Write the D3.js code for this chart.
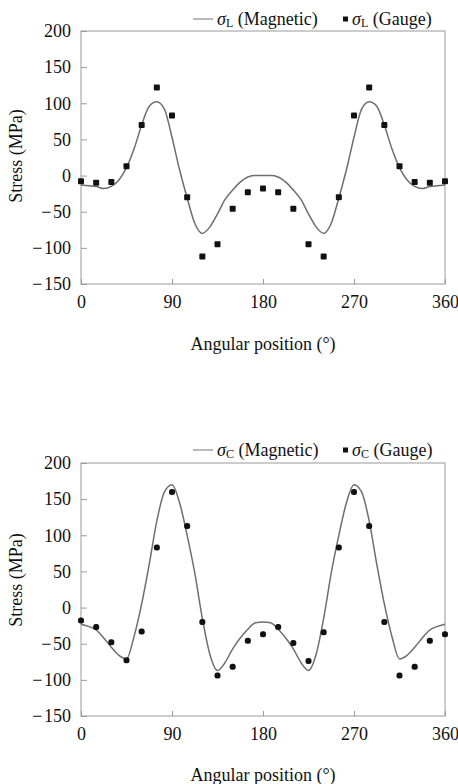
<!DOCTYPE html>
<html>
<head>
<meta charset="utf-8">
<script src="https://cdn.jsdelivr.net/npm/d3@7"></script>
<style>
  body { margin: 0; background: white; }
  svg { display: block; }
  text { font-family: "Liberation Serif", "Times New Roman", serif; }
</style>
</head>
<body>
<svg id="chart"></svg>
<script>
// gauge positions (degrees)
var gaugeAngles = [0, 15, 30, 45, 60, 75, 90, 105, 120, 135, 150, 165, 180,
                   195, 210, 225, 240, 255, 270, 285, 300, 315, 330, 345, 360]
// magnetic readings are denser
var magAngles = [0, 7.5, 15, 22.5, 30, 37.5, 45, 52.5, 60, 67.5, 75, 82.5, 90,
                 97.5, 105, 112.5, 120, 127.5, 135, 142.5, 150, 157.5, 165, 172.5, 180,
                 187.5, 195, 202.5, 210, 217.5, 225, 232.5, 240, 247.5, 255, 262.5, 270,
                 277.5, 285, 292.5, 300, 307.5, 315, 322.5, 330, 337.5, 345, 352.5, 360]

// longitudinal stress (MPa)
var sigmaLGauge = [-8, -10, -9, 13, 70, 122, 83, -30, -112, -95, -46, -23, -18,
                   -23, -46, -95, -112, -30, 83, 122, 70, 13, -9, -10, -8]
var sigmaLMagnetic = [-13, -14, -15, -18, -15, -6, 11, 37, 70, 96, 102, 92, 53,
                      8, -31, -66, -80, -71, -53, -33, -20, -9, -2, 0, 0,
                      0, -2, -9, -20, -33, -53, -71, -80, -66, -31, 8, 53,
                      92, 102, 96, 70, 37, 11, -6, -15, -18, -15, -14, -13]

// circumferential stress (MPa)
var sigmaCGauge = [-18, -27, -48, -73, -33, 83, 160, 113, -20, -94, -82, -46, -37,
                   -27, -49, -74, -34, 83, 160, 113, -20, -94, -82, -46, -37]
var sigmaCMagnetic = [-23, -26, -31, -42, -55, -66, -71, -40, 5, 60, 120, 160, 170,
                      145, 100, 48, -15, -65, -87, -76, -57, -42, -30, -21, -20,
                      -21, -30, -42, -57, -76, -87, -65, -15, 48, 100, 145, 170,
                      160, 120, 60, 5, -40, -71, -66, -55, -42, -31, -26, -23]

var xTicks = [0, 90, 180, 270, 360]
var yTicks = [-150, -100, -50, 0, 50, 100, 150, 200]

var width = 458, height = 784
var margin = { left: 81, right: 13 }
var font = "'Liberation Serif', 'Times New Roman', serif"
var fontSize = "18px"

var svg = d3.select("#chart")
    .attr("width", width)
    .attr("height", height)

var panels = [
    { sub: "L", gauge: sigmaLGauge, mag: sigmaLMagnetic, roundness: 1,
      top: 31, bottom: 284, legendY: 19, titleY: 350, labelY: 156 },
    { sub: "C", gauge: sigmaCGauge, mag: sigmaCMagnetic, roundness: 2.5,
      top: 463, bottom: 716, legendY: 450, titleY: 781, labelY: 580 }
]

var x = d3.scaleLinear()
    .domain([0, 360])
    .range([margin.left, width - margin.right])

var fmt = d => d < 0 ? "\u2212\u200A" + Math.abs(d) : String(d)

panels.forEach(p => {
    var y = d3.scaleLinear()
        .domain([-150, 200])
        .range([p.bottom, p.top])

    var g = svg.append("g")

    // frame
    g.append("rect")
        .attr("x", x(0))
        .attr("y", y(200))
        .attr("width", x(360) - x(0))
        .attr("height", y(-150) - y(200))
        .attr("fill", "none")
        .attr("stroke", "#9a9a9a")
        .attr("stroke-width", 1)

    // y axis, ticks pointing inward
    var yAxis = g.append("g")
        .attr("transform", `translate(${x(0)},0)`)
        .call(d3.axisLeft(y).tickValues(yTicks).tickFormat(fmt)
            .tickSizeInner(-6).tickSizeOuter(0).tickPadding(10))
    yAxis.attr("font-family", font).attr("font-size", fontSize)
    yAxis.select(".domain").remove()
    yAxis.selectAll("line").attr("stroke", "#9a9a9a")
    yAxis.selectAll("text").attr("fill", "#111")

    var xAxis = g.append("g")
        .attr("transform", `translate(0,${y(-150)})`)
        .call(d3.axisBottom(x).tickValues(xTicks)
            .tickSizeInner(-5).tickSizeOuter(0).tickPadding(11))
    xAxis.attr("font-family", font).attr("font-size", fontSize)
    xAxis.select(".domain").remove()
    xAxis.selectAll("line").attr("stroke", "#9a9a9a")
    xAxis.selectAll("text").attr("fill", "#111")

    // axis titles
    g.append("text")
        .attr("x", x(180))
        .attr("y", p.titleY)
        .attr("text-anchor", "middle")
        .attr("font-size", fontSize)
        .attr("fill", "#111")
        .text("Angular position (°)")

    g.append("text")
        .attr("transform", `translate(22,${p.labelY}) rotate(-90)`)
        .attr("text-anchor", "middle")
        .attr("font-size", fontSize)
        .attr("fill", "#111")
        .text("Stress (MPa)")

    // magnetic curve
    var line = d3.line()
        .x((d, i) => x(magAngles[i]))
        .y(d => y(d))
        .curve(d3.curveMonotoneX)

    g.append("path")
        .datum(p.mag)
        .attr("d", line)
        .attr("fill", "none")
        .attr("stroke", "#6e6e6e")
        .attr("stroke-width", 1.5)

    // gauge points
    var s = 6
    g.selectAll(".gauge")
        .data(p.gauge)
        .enter()
        .append("rect")
        .attr("class", "gauge")
        .attr("x", (d, i) => x(gaugeAngles[i]) - s / 2)
        .attr("y", d => y(d) - s / 2)
        .attr("width", s)
        .attr("height", s)
        .attr("rx", p.roundness)
        .attr("fill", "#111")

    // legend
    var leg = g.append("g")
    leg.append("line")
        .attr("x1", 193).attr("x2", 213)
        .attr("y1", p.legendY).attr("y2", p.legendY)
        .attr("stroke", "#8a8a8a")
        .attr("stroke-width", 1.2)

    var t1 = leg.append("text")
        .attr("x", 217)
        .attr("y", p.legendY + 6)
        .attr("font-size", fontSize)
        .attr("fill", "#111")
    t1.append("tspan").style("font-style", "italic").text("σ")
    t1.append("tspan").attr("font-size", "12px").attr("dy", 2).text(p.sub)
    t1.append("tspan").attr("dy", -2).text(" (Magnetic)")

    leg.append("rect")
        .attr("x", 343).attr("y", p.legendY - 2.5)
        .attr("width", 5).attr("height", 5)
        .attr("fill", "#111")

    var t2 = leg.append("text")
        .attr("x", 352)
        .attr("y", p.legendY + 6)
        .attr("font-size", fontSize)
        .attr("fill", "#111")
    t2.append("tspan").style("font-style", "italic").text("σ")
    t2.append("tspan").attr("font-size", "12px").attr("dy", 2).text(p.sub)
    t2.append("tspan").attr("dy", -2).text(" (Gauge)")
})
</script>
</body>
</html>
